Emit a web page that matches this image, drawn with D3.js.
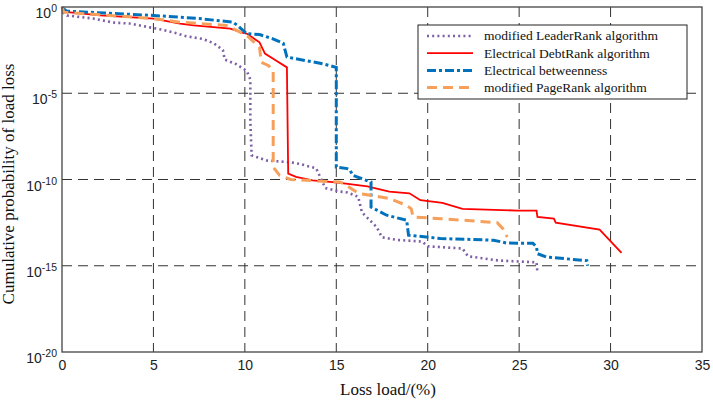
<!DOCTYPE html>
<html>
<head>
<meta charset="utf-8">
<script src="https://cdn.jsdelivr.net/npm/d3@7"></script>
<style>
  body { margin: 0; background: #fff; }
  svg { display: block; }
</style>
</head>
<body>
<div id="chart"></div>
<script>
// x = loss load (%), y = log10 of cumulative probability
const leaderX = [0, 0.05, 0.27, 1.7, 2.8, 3.7, 4.8, 5.4, 6.3, 6.8, 7.7, 8.3, 8.8, 8.9, 9.5, 10.1, 10.3, 10.3, 10.37, 11.2, 12.5, 13.0, 13.9, 14.4, 15.2, 15.6, 16.2, 16.4, 17.2, 17.5, 18.3, 19.7, 20.0, 21.9, 22.2, 23.9, 25.95, 26.0]
const leaderY = [0, -0.3, -0.49, -0.67, -0.9, -0.96, -1.18, -1.3, -1.53, -1.7, -1.85, -2.1, -2.5, -3.05, -3.3, -3.7, -4.2, -6.6, -8.6, -8.9, -9.0, -9.1, -9.35, -10.5, -10.7, -10.75, -11.0, -11.9, -12.75, -13.35, -13.5, -13.6, -13.87, -14.0, -14.45, -14.7, -14.8, -15.4]

const debtX = [0, 0.3, 2.1, 5.0, 6.45, 7.2, 9.2, 9.9, 10.1, 10.8, 11.1, 11.7, 12.3, 12.37, 12.8, 13.7, 14.8, 15.2, 16.7, 17.9, 19.0, 19.6, 20.8, 21.9, 24.9, 25.95, 26.0, 26.9, 27.0, 29.4, 30.6]
const debtY = [-0.2, -0.3, -0.49, -0.67, -0.96, -1.07, -1.25, -1.5, -1.54, -2.05, -2.7, -3.1, -3.5, -9.66, -9.85, -10.05, -10.15, -10.2, -10.4, -10.7, -10.8, -11.2, -11.35, -11.7, -11.8, -11.8, -12.17, -12.27, -12.5, -12.9, -14.25]

const betweenX = [0, 0.27, 5.0, 7.5, 9.35, 9.6, 10.1, 10.8, 11.5, 12.1, 12.3, 14.3, 15.0, 15.0, 15.6, 15.75, 15.9, 16.9, 16.9, 17.75, 18.85, 18.95, 20.7, 23.6, 24.3, 25.75, 25.95, 26.0, 26.5, 28.7, 28.75]
const betweenY = [-0.05, -0.24, -0.49, -0.67, -0.88, -1.07, -1.55, -1.6, -1.83, -2.1, -2.9, -3.3, -3.5, -9.28, -9.37, -9.45, -9.76, -10.15, -11.6, -12.07, -12.36, -13.23, -13.42, -13.52, -13.68, -13.7, -13.9, -14.3, -14.5, -14.7, -15.0]

const pageX = [0, 0.1, 5.0, 6.45, 7.5, 9.0, 9.55, 10.1, 10.8, 10.9, 11.3, 11.55, 11.55, 11.9, 12.5, 15.2, 15.4, 16.2, 17.9, 18.85, 19.1, 19.2, 20.7, 23.8, 24.1, 24.35]
const pageY = [0, -0.3, -0.67, -0.88, -0.96, -1.07, -1.36, -1.65, -2.33, -3.2, -3.4, -3.7, -9.28, -9.76, -10.0, -10.15, -10.24, -10.8, -11.1, -11.5, -11.7, -12.17, -12.27, -12.5, -12.84, -13.33]

const seriesNames = ['modified LeaderRank algorithm',
                     'Electrical DebtRank algorithm',
                     'Electrical betweenness',
                     'modified PageRank algorithm']

const xTicks = [0, 5, 10, 15, 20, 25, 30, 35]
const yTicks = [-20, -15, -10, -5, 0]

const width = 713
const height = 400
const pLeft = 62, pRight = 702, pTop = 7, pBottom = 352

const series = [
  {name: seriesNames[0], xs: leaderX, ys: leaderY, color: '#7d5fa6', w: 2.6, dash: '2,3.2'},
  {name: seriesNames[1], xs: debtX, ys: debtY, color: '#ff0000', w: 1.8, dash: null},
  {name: seriesNames[2], xs: betweenX, ys: betweenY, color: '#0072bd', w: 3, dash: '9,3,3,3'},
  {name: seriesNames[3], xs: pageX, ys: pageY, color: '#f6a05c', w: 3, dash: '10,6'}
]

const svg = d3.select('#chart')
  .append('svg')
  .attr('width', width)
  .attr('height', height)

const xScale = d3.scaleLinear().domain([0, 35]).range([pLeft, pRight])
const yScale = d3.scaleLinear().domain([-20, 0]).range([pBottom, pTop])

// grid
const grid = svg.append('g')
grid.selectAll('line.gx')
  .data(xTicks.filter(d => d > 0 && d < 35))
  .enter()
  .append('line')
  .attr('class', 'gx')
  .attr('x1', d => xScale(d)).attr('x2', d => xScale(d))
  .attr('y1', pTop).attr('y2', pBottom)
  .attr('stroke', '#333').attr('stroke-width', 1)
  .attr('stroke-dasharray', '10,6')
grid.selectAll('line.gy')
  .data(yTicks.filter(d => d > -20 && d < 0))
  .enter()
  .append('line')
  .attr('class', 'gy')
  .attr('y1', d => yScale(d)).attr('y2', d => yScale(d))
  .attr('x1', pLeft).attr('x2', pRight)
  .attr('stroke', '#333').attr('stroke-width', 1)
  .attr('stroke-dasharray', '10,6')

// curves
const line = d3.line()
  .x(d => xScale(d[0]))
  .y(d => yScale(d[1]))

series.forEach(s => {
  svg.append('path')
    .datum(s.xs.map((x, i) => [x, s.ys[i]]))
    .attr('d', line)
    .attr('fill', 'none')
    .attr('stroke', s.color)
    .attr('stroke-width', s.w)
    .attr('stroke-dasharray', s.dash)
})

// frame
svg.append('rect')
  .attr('x', pLeft).attr('y', pTop)
  .attr('width', pRight - pLeft).attr('height', pBottom - pTop)
  .attr('fill', 'none').attr('stroke', '#444').attr('stroke-width', 1.3)

// axes
const xAxis = svg.append('g')
  .attr('transform', 'translate(0,' + pBottom + ')')
  .call(d3.axisBottom(xScale).tickValues(xTicks).tickSize(0).tickPadding(8))
xAxis.select('.domain').remove()
xAxis.selectAll('text')
  .attr('font-family', '"Liberation Sans", Arial, sans-serif')
  .attr('font-size', 14)
  .attr('fill', '#222')

const yAxis = svg.append('g')
  .attr('transform', 'translate(' + pLeft + ',0)')
  .call(d3.axisLeft(yScale).tickValues(yTicks).tickSize(0).tickPadding(5))
yAxis.select('.domain').remove()
yAxis.selectAll('text')
  .attr('font-family', '"Liberation Sans", Arial, sans-serif')
  .attr('font-size', 14)
  .attr('fill', '#222')
  .attr('dy', '0.75em')
  .each(function(d) {
    const t = d3.select(this)
    t.text('')
    t.append('tspan').text('10')
    t.append('tspan').attr('dy', '-0.55em').attr('font-size', 10.5).text(String(d))
  })

// axis titles
svg.append('text')
  .attr('x', 388).attr('y', 395)
  .attr('text-anchor', 'middle')
  .attr('font-family', '"Liberation Serif", "Times New Roman", serif')
  .attr('font-size', 17)
  .attr('fill', '#111')
  .text('Loss load/(%)')

svg.append('text')
  .attr('transform', 'translate(14,184) rotate(-90)')
  .attr('text-anchor', 'middle')
  .attr('font-family', '"Liberation Serif", "Times New Roman", serif')
  .attr('font-size', 17)
  .attr('fill', '#111')
  .text('Cumulative probability of load loss')

// legend
const legend = svg.append('g')
legend.append('rect')
  .attr('x', 418).attr('y', 25)
  .attr('width', 269).attr('height', 74)
  .attr('fill', '#fff').attr('stroke', '#222').attr('stroke-width', 1)

const items = legend.selectAll('g.item')
  .data(series)
  .enter()
  .append('g')
  .attr('class', 'item')
  .attr('transform', (d, i) => 'translate(0,' + (36 + i * 17.2) + ')')

items.append('line')
  .attr('x1', 427).attr('x2', 473)
  .attr('y1', 0).attr('y2', 0)
  .attr('stroke', d => d.color)
  .attr('stroke-width', d => d.w)
  .attr('stroke-dasharray', d => d.dash)

items.append('text')
  .attr('x', 484).attr('y', 0)
  .attr('dy', '0.33em')
  .attr('font-family', '"Liberation Serif", "Times New Roman", serif')
  .attr('font-size', 13.5)
  .attr('fill', '#111')
  .text(d => d.name)
</script>
</body>
</html>
